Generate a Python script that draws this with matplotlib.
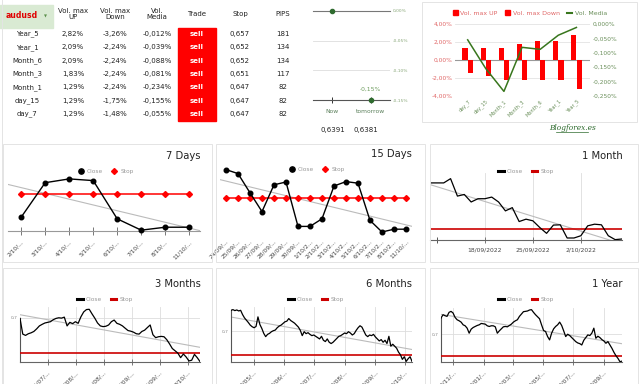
import numpy as np
import pandas as pd
import matplotlib
matplotlib.use('Agg')
import matplotlib.pyplot as plt
import matplotlib.dates as mdates
from matplotlib.patches import Rectangle, Patch
from matplotlib.lines import Line2D

W, H = 640, 384

# tabla resumen audusd
periods = ['Year_5', 'Year_1', 'Month_6', 'Month_3', 'Month_1', 'day_15', 'day_7']
vol_up = [2.82, 2.09, 2.09, 1.83, 1.29, 1.29, 1.29]
vol_down = [-3.26, -2.24, -2.24, -2.24, -2.24, -1.75, -1.48]
vol_media = [-0.012, -0.039, -0.088, -0.081, -0.234, -0.155, -0.055]
trade = ['sell', 'sell', 'sell', 'sell', 'sell', 'sell', 'sell']
stop = [0.657, 0.652, 0.652, 0.651, 0.647, 0.647, 0.647]
pips = [181, 134, 134, 117, 82, 82, 82]

# prevision
forecast_labels = ['Now', 'tomorrow']
forecast_change = [0.0, -0.15]
forecast_price = [0.6391, 0.6381]

# 7 dias
days_7 = ['2/10/...', '3/10/...', '4/10/...', '5/10/...', '6/10/...', '7/10/...', '8/10/...', '11/10/...']
close_7 = [0.6415, 0.6497, 0.6506, 0.6502, 0.6411, 0.6384, 0.6391, 0.6391]

# 15 dias
days_15 = ['24/09/...', '25/09/...', '26/09/...', '27/09/...', '28/09/...', '29/09/...', '30/09/...',
           '1/10/2...', '2/10/2...', '3/10/2...', '4/10/2...', '5/10/2...', '6/10/2...', '7/10/2...',
           '8/10/2...', '11/10/...']
close_15 = [0.6540, 0.6530, 0.6482, 0.6435, 0.6502, 0.6509, 0.6398, 0.6398, 0.6417, 0.6499,
            0.6510, 0.6506, 0.6413, 0.6384, 0.6391, 0.6391]

# 1 mes
dates_1m = pd.to_datetime(['2022-09-10']).append(pd.date_range('2022-09-12', '2022-10-08'))
close_1m = [0.6838, 0.6838, 0.6872, 0.6733, 0.6746, 0.6686, 0.6712, 0.6712, 0.6725, 0.6686,
            0.6615, 0.6641, 0.6530, 0.6549, 0.6536, 0.6483, 0.6436, 0.6502, 0.6504, 0.6399,
            0.6399, 0.6417, 0.6496, 0.6509, 0.6504, 0.6417, 0.6386, 0.6391]
ticks_1m = ['2022-09-18', '2022-09-25', '2022-10-02']
labels_1m = ['18/09/2022', '25/09/2022', '2/10/2022']

# 3 meses
close_3m = [0.6991, 0.6771, 0.6753, 0.6776, 0.6789, 0.6808, 0.6844, 0.6886, 0.6908, 0.6927,
            0.6936, 0.6945, 0.6973, 0.6991, 0.7000, 0.6995, 0.7009, 0.6886, 0.6936, 0.6918,
            0.6945, 0.6922, 0.7014, 0.7082, 0.7115, 0.7119, 0.7055, 0.6995, 0.6927, 0.6886,
            0.6876, 0.6881, 0.6899, 0.6945, 0.6968, 0.6922, 0.6908, 0.6886, 0.6853, 0.6821,
            0.6812, 0.6798, 0.6776, 0.6771, 0.6808, 0.6826, 0.6863, 0.6899, 0.6762, 0.6721,
            0.6734, 0.6739, 0.6734, 0.6693, 0.6634, 0.6569, 0.6537, 0.6505, 0.6441, 0.6492,
            0.6450, 0.6395, 0.6405, 0.6487, 0.6441, 0.6386]
ticks_3m = ['2022-07-24', '2022-08-07', '2022-08-21', '2022-09-04', '2022-09-18', '2022-10-02']
labels_3m = ['24/07/...', '7/08/...', '21/08/...', '4/09/...', '18/09/...', '2/10/...']

# 6 meses
close_6m = [0.7420, 0.7434, 0.7414, 0.7427, 0.7407, 0.7420, 0.7334, 0.7267, 0.7220, 0.7173,
            0.7120, 0.7087, 0.7067, 0.7093, 0.7287, 0.7133, 0.7053, 0.6953, 0.6887, 0.6933,
            0.6953, 0.6987, 0.7007, 0.7020, 0.7067, 0.7100, 0.7120, 0.7153, 0.7187, 0.7200,
            0.7253, 0.7213, 0.7187, 0.7160, 0.7120, 0.7080, 0.7013, 0.6907, 0.6987, 0.6947,
            0.6967, 0.6933, 0.6907, 0.6920, 0.6893, 0.6867, 0.6840, 0.6893, 0.6813, 0.6787,
            0.6840, 0.6773, 0.6747, 0.6773, 0.6813, 0.6853, 0.6893, 0.6907, 0.6933, 0.6960,
            0.6947, 0.6987, 0.6960, 0.6920, 0.6947, 0.7013, 0.7067, 0.7107, 0.7080, 0.7000,
            0.6920, 0.6887, 0.6920, 0.6907, 0.6933, 0.6880, 0.6840, 0.6800, 0.6827, 0.6773,
            0.6813, 0.6747, 0.6893, 0.6693, 0.6733, 0.6693, 0.6653, 0.6573, 0.6520, 0.6426,
            0.6480, 0.6386, 0.6440, 0.6480, 0.6386]
ticks_6m = ['2022-05-01', '2022-06-01', '2022-07-01', '2022-08-01', '2022-09-01', '2022-10-01']
labels_6m = ['1/05/...', '1/06/...', '1/07/...', '1/08/...', '1/09/...', '1/10/...']

# 1 anyo
close_1y = [0.7360, 0.7435, 0.7413, 0.7398, 0.7488, 0.7510, 0.7473, 0.7375, 0.7323, 0.7300,
            0.7270, 0.7210, 0.7188, 0.7135, 0.7023, 0.7113, 0.7150, 0.7173, 0.7195, 0.7210,
            0.7240, 0.7233, 0.7225, 0.7188, 0.7173, 0.7188, 0.7188, 0.7165, 0.7023, 0.7075,
            0.7120, 0.7165, 0.7173, 0.7165, 0.7195, 0.7225, 0.7270, 0.7300, 0.7323, 0.7398,
            0.7450, 0.7503, 0.7510, 0.7518, 0.7540, 0.7548, 0.7488, 0.7435, 0.7390, 0.7345,
            0.7210, 0.7083, 0.7060, 0.6948, 0.6873, 0.7023, 0.7120, 0.7173, 0.7210, 0.7270,
            0.7195, 0.7075, 0.6948, 0.7000, 0.6970, 0.6925, 0.6880, 0.6835, 0.6805, 0.6790,
            0.6760, 0.6865, 0.6925, 0.6985, 0.6970, 0.7023, 0.7135, 0.6910, 0.6955, 0.6925,
            0.6880, 0.6850, 0.6798, 0.6835, 0.6760, 0.6685, 0.6595, 0.6520, 0.6460, 0.6385,
            0.6400]
ticks_1y = ['2021-11-01', '2022-01-01', '2022-03-01', '2022-05-01', '2022-07-01', '2022-09-01']
labels_1y = ['1/11/...', '1/01/...', '1/03/...', '1/05/...', '1/07/...', '1/09/...']

dates_3m = pd.date_range('2022-07-10', '2022-10-08', periods=len(close_3m))
dates_6m = pd.date_range('2022-04-08', '2022-10-08', periods=len(close_6m))
dates_1y = pd.date_range('2021-10-07', '2022-10-08', periods=len(close_1y))


def box(x0, y0, x1, y1):
    return [x0 / W, 1 - y1 / H, (x1 - x0) / W, (y1 - y0) / H]


def coma(v, d):
    return f'{v:.{d}f}'.replace('.', ',')


fig = plt.figure(figsize=(6.4, 3.84), dpi=100)
fig.patch.set_facecolor('white')


def frame(x0, y0, x1, y1, ec='#e4e4e4'):
    fig.add_artist(Rectangle((x0 / W, 1 - y1 / H), (x1 - x0) / W, (y1 - y0) / H,
                             transform=fig.transFigure, fill=False, ec=ec, lw=0.7))


# rejilla de la hoja
fig.add_artist(Line2D([2 / W, 2 / W], [0, 1], transform=fig.transFigure, color='#e4e4e4', lw=0.7))
for p in [(3, 144, 212, 262), (216, 144, 425, 262), (430, 144, 638, 262),
          (3, 268, 212, 390), (216, 268, 425, 390), (430, 268, 638, 390), (422, 2, 637, 122)]:
    frame(*p)

# ---- tabla ----
fig.add_artist(Rectangle((0, 1 - 28 / H), 53 / W, 23 / H, transform=fig.transFigure,
                         color='#d9ead3', zorder=0))
fig.text(22 / W, 1 - 16 / H, 'audusd', color='#e00000', weight='bold', fontsize=5.6, ha='center', va='center')
fig.text(45 / W, 1 - 16 / H, '▼', color='#5a8f4a', fontsize=2.8, ha='center', va='center')
col_x = [73, 115, 157, 197, 240, 283]
headers = ['Vol. max\nUP', 'Vol. max\nDown', 'Vol.\nMedia', 'Trade', 'Stop', 'PIPS']
for cx, h in zip(col_x, headers):
    fig.text(cx / W, 1 - 14 / H, h, fontsize=5, ha='center', va='center', color='#222222', linespacing=1.15)

fig.add_artist(Rectangle((178 / W, 1 - 121 / H), 38 / W, 93 / H, transform=fig.transFigure,
                         color='#ff0000', zorder=0))
for i in range(len(periods)):
    y = 1 - (34 + 13.33 * i) / H
    row = [periods[i], coma(vol_up[i], 2) + '%', coma(vol_down[i], 2) + '%',
           coma(vol_media[i], 3) + '%', trade[i], coma(stop[i], 3), str(pips[i])]
    xs = [27] + col_x
    for j, (cx, t) in enumerate(zip(xs, row)):
        if j == 4:
            fig.text(cx / W, y, t, fontsize=5, ha='center', va='center', color='white', weight='bold')
        else:
            fig.text(cx / W, y, t, fontsize=5, ha='center', va='center', color='#222222')

# ---- prevision ----
ax_g = fig.add_axes(box(313, 11, 390, 100))
xg = np.arange(len(forecast_labels))
ax_g.plot(xg, forecast_change, 'o', color='#2f6b2f', ms=3, clip_on=False, zorder=5)
ax_g.set_xlim(-0.5, 1.5)
ax_g.set_ylim(-0.15, 0)
ax_g.set_yticks([0, -0.05, -0.10, -0.15])
ax_g.set_yticklabels([coma(v, 2) + '%' for v in [0, -0.05, -0.10, -0.15]], fontsize=3.2, color='#8aa87a')
ax_g.yaxis.tick_right()
ax_g.tick_params(axis='y', length=0, pad=2)
ax_g.grid(axis='y', color='#dddddd', lw=0.6)
ax_g.set_xticks(xg)
ax_g.set_xticklabels(forecast_labels, fontsize=4.3, color='#5a7f5a')
ax_g.tick_params(axis='x', direction='inout', length=5, width=0.7, color='#333333', pad=4)
for s in ['left', 'right']:
    ax_g.spines[s].set_visible(False)
ax_g.spines['top'].set_color('#777777')
ax_g.spines['bottom'].set_color('#555555')
ax_g.spines['top'].set_linewidth(0.8)
ax_g.spines['bottom'].set_linewidth(0.8)
ax_g.annotate(coma(forecast_change[1], 2) + '%', (xg[1], forecast_change[1]), xytext=(0, 6),
              textcoords='offset points', ha='center', va='bottom', fontsize=4.3, color='#6a9a5a')
for cx, p in zip([333, 366], forecast_price):
    fig.text(cx / W, 1 - 130 / H, coma(p, 4), fontsize=5, ha='center', va='center', color='#222222')

# ---- barras volatilidad ----
ax_b = fig.add_axes(box(455, 24, 590, 96))
xb = np.arange(len(periods))
ax_b.bar(xb - 0.15, vol_up[::-1], 0.28, color='#ff0000', zorder=3)
ax_b.bar(xb + 0.15, vol_down[::-1], 0.28, color='#ff0000', zorder=3)
ax_b.set_ylim(-4, 4)
ax_b.set_xlim(-0.7, 6.75)
ax_b.set_yticks([4, 2, 0, -2, -4])
ax_b.set_yticklabels([coma(v, 2) + '%' for v in [4, 2, 0, -2, -4]], fontsize=4.2, color='#e06666')
ax_b.grid(axis='y', color='#e3e3e3', lw=0.6)
ax_b.axhline(0, color='#999999', lw=0.8, zorder=2)
ax_b.set_xticks(xb)
ax_b.set_xticklabels(periods[::-1], rotation=45, ha='right', rotation_mode='anchor', fontsize=3.6, color='#6a8f5a')
ax_b.tick_params(length=0, pad=2)
ax_m = ax_b.twinx()
ax_m.plot(xb, vol_media[::-1], color='#38761d', lw=1.1)
ax_m.set_ylim(-0.25, 0)
ax_m.set_yticks([0, -0.05, -0.10, -0.15, -0.20, -0.25])
ax_m.set_yticklabels([coma(v, 3) + '%' for v in [0, -0.05, -0.10, -0.15, -0.20, -0.25]], fontsize=4.2, color='#6a8f5a')
ax_m.tick_params(length=0, pad=2)
for a in (ax_b, ax_m):
    for s in a.spines.values():
        s.set_visible(False)
fig.legend([Patch(color='#ff0000'), Patch(color='#ff0000'), Line2D([], [], color='#38761d', lw=1.5)],
           ['Vol. max UP', 'Vol. max Down', 'Vol. Media'], loc='center',
           bbox_to_anchor=(530 / W, 1 - 13 / H), ncol=3, frameon=False, fontsize=4.5,
           handlelength=0.8, handleheight=0.8, handletextpad=0.4, columnspacing=1.2,
           labelcolor=['#e06666', '#e06666', '#6a8f5a'])
fig.text(572 / W, 1 - 128 / H, 'Blogforex.es', style='italic', family='DejaVu Serif', fontsize=5.3,
         color='#2d6a2d', ha='center', va='center')
fig.add_artist(Line2D([556 / W, 588 / W], [1 - 132 / H, 1 - 132 / H], transform=fig.transFigure,
                      color='#2d6a2d', lw=0.5))


# ---- graficos de precios ----
def title(txt, x, y):
    fig.text(x / W, 1 - y / H, txt, ha='right', va='center', fontsize=7.2, color='#222222')


def chart_legend(ax, handles, cx, cy):
    ax.legend(handles=handles, loc='center', bbox_to_anchor=(cx / W, 1 - cy / H),
              bbox_transform=fig.transFigure, ncol=2, frameon=False, fontsize=4.2,
              labelcolor='#999999', handlelength=1.0, handletextpad=0.5, columnspacing=1.4)


marker_handles = [Line2D([], [], marker='o', color='black', ls='none', ms=3.8, label='Close'),
                  Line2D([], [], marker='D', color='#ff0000', ls='none', ms=3, label='Stop')]
line_handles = [Line2D([], [], color='black', lw=2.2, label='Close'),
                Line2D([], [], color='#cc0000', lw=2.2, label='Stop')]


def day_chart(rect, labels, close, stop_value, xlim, ylim, baseline):
    ax = fig.add_axes(rect)
    x = np.arange(len(labels))
    ax.set_xlim(*xlim)
    ax.set_ylim(*ylim)
    coef = np.polyfit(x, close, 1)
    xs = np.array(xlim)
    ax.plot(xs, np.polyval(coef, xs), color='#bbbbbb', lw=0.8, zorder=1)
    ax.plot(x, [stop_value] * len(x), color='#ff0000', lw=1.1, marker='D', ms=3, zorder=2)
    ax.plot(x, close, color='black', lw=1.0, marker='o', ms=3.3, zorder=3, clip_on=False)
    ax.set_xticks(x)
    ax.set_xticklabels(labels, rotation=45, ha='right', rotation_mode='anchor', fontsize=4.2, color='#444444')
    ax.set_yticks([])
    for s in ['left', 'right', 'top']:
        ax.spines[s].set_visible(False)
    if baseline:
        ax.spines['bottom'].set_color('#999999')
        ax.spines['bottom'].set_linewidth(0.8)
        ax.tick_params(axis='x', direction='inout', length=6, width=0.7, color='#777777', pad=3)
    else:
        ax.spines['bottom'].set_visible(False)
        ax.tick_params(axis='x', length=0, pad=2)
    return ax


ax7 = day_chart(box(8, 160, 200, 231), days_7, close_7, stop[periods.index('day_7')],
                (-0.55, 7.45), (0.6382, 0.6551), True)
title('7 Days', 201, 156)
chart_legend(ax7, marker_handles, 106, 171)

ax15 = day_chart(box(220, 160, 412, 236), days_15, close_15, stop[periods.index('day_15')],
                 (-0.5, 15.5), (0.6374, 0.6564), False)
title('15 Days', 412, 154)
chart_legend(ax15, marker_handles, 317, 169)


def date_chart(rect, dates, close, stop_value, ylim, ticks, labels, grid_y, minor=None, rotate=True):
    ax = fig.add_axes(rect)
    d = dates.to_numpy()
    xn = mdates.date2num(dates.to_pydatetime())
    coef = np.polyfit(xn, close, 1)
    ax.set_xlim(d[0], d[-1])
    ax.set_ylim(*ylim)
    ax.plot(d[[0, -1]], np.polyval(coef, xn[[0, -1]]), color='#bbbbbb', lw=0.8, zorder=2)
    ax.plot(d, [stop_value] * len(d), color='#cc0000', lw=1.2, zorder=3)
    ax.plot(d, close, color='black', lw=0.9, zorder=4)
    ax.set_xticks(pd.to_datetime(ticks).to_numpy())
    if rotate:
        ax.set_xticklabels(labels, rotation=45, ha='right', rotation_mode='anchor', fontsize=4.2, color='#444444')
    else:
        ax.set_xticklabels(labels, fontsize=4.3, color='#444444')
    if minor is not None:
        ax.set_xticks(pd.to_datetime(minor).to_numpy(), minor=True)
        ax.tick_params(axis='x', which='minor', direction='inout', length=5, width=0.7, color='#555555')
    ax.grid(axis='x', color='#dddddd', lw=0.6, zorder=0)
    if grid_y:
        ax.set_yticks([0.7])
        ax.set_yticklabels(['0,7'], fontsize=3.2, color='#888888')
        ax.grid(axis='y', color='#dddddd', lw=0.6, zorder=0)
        ax.tick_params(axis='y', length=0, pad=2)
        ax.spines['left'].set_color('#555555')
        ax.spines['left'].set_linewidth(0.8)
        ax.spines['left'].set_bounds(ylim[0], close[0])
    else:
        ax.set_yticks([])
        ax.spines['left'].set_visible(False)
    ax.spines['right'].set_visible(False)
    ax.spines['top'].set_visible(False)
    ax.spines['bottom'].set_color('#666666')
    ax.spines['bottom'].set_linewidth(0.8)
    ax.tick_params(axis='x', direction='inout', length=5, width=0.7, color='#777777', pad=3)
    return ax


ax1m = date_chart(box(430, 173, 622, 240), dates_1m, close_1m, stop[periods.index('Month_1')],
                  (0.6383, 0.6917), ticks_1m, labels_1m, False, minor=['2022-09-11'], rotate=False)
title('1 Month', 623, 156)
chart_legend(ax1m, line_handles, 526, 171)

ax3m = date_chart(box(20, 307, 200, 362), dates_3m, close_3m, stop[periods.index('Month_3')],
                  (0.638, 0.7151), ticks_3m, labels_3m, True)
title('3 Months', 201, 284)
chart_legend(ax3m, line_handles, 105, 299)

ax6m = date_chart(box(231, 307, 412, 362), dates_6m, close_6m, stop[periods.index('Month_6')],
                  (0.6373, 0.7487), ticks_6m, labels_6m, True)
title('6 Months', 412, 284)
chart_legend(ax6m, line_handles, 316, 299)

ax1y = date_chart(box(441, 308, 622, 362), dates_1y, close_1y, stop[periods.index('Year_1')],
                  (0.638, 0.7585), ticks_1y, labels_1y, True)
title('1 Year', 622, 284)
chart_legend(ax1y, line_handles, 526, 299)

plt.savefig('out.png', dpi=100, facecolor='white')
